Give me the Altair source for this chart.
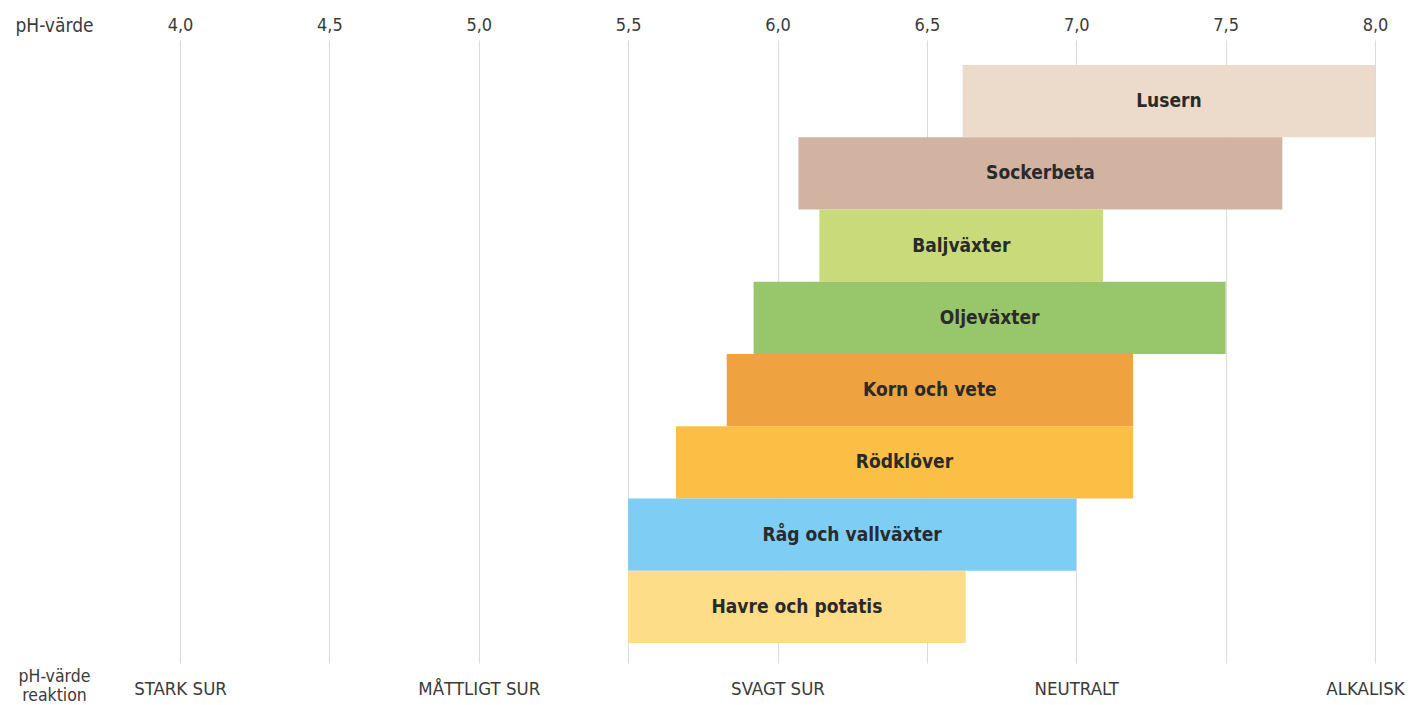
import altair as alt
import pandas as pd

crops = ["Lusern", "Sockerbeta", "Baljväxter", "Oljeväxter", "Korn och vete",
         "Rödklöver", "Råg och vallväxter", "Havre och potatis"]
ph_low = [6.62, 6.07, 6.14, 5.92, 5.83, 5.66, 5.50, 5.50]
ph_high = [8.00, 7.69, 7.09, 7.50, 7.19, 7.19, 7.00, 6.63]
colors = ["#ecdacb", "#d2b3a1", "#c8da79", "#97c66b", "#eea340",
          "#fbbf45", "#7ecdf4", "#fedd89"]

ph_ticks = [4.0, 4.5, 5.0, 5.5, 6.0, 6.5, 7.0, 7.5, 8.0]
reaction_ticks = [4.0, 5.0, 6.0, 7.0, 8.0]
reaction_labels = ["STARK SUR", "MÅTTLIGT SUR", "SVAGT SUR", "NEUTRALT", "ALKALISK"]

df = pd.DataFrame({"crop": crops, "low": ph_low, "high": ph_high})

FONT = "DejaVu Sans Condensed, DejaVu Sans"
TXT = "#3a3a3a"

reaction_expr = " : ".join(
    f"datum.value == {v} ? '{t}'" for v, t in zip(reaction_ticks, reaction_labels)
) + " : ''"

xscale = alt.Scale(domain=[4.0, 8.0], nice=False, zero=False)
yscale = alt.Scale(domain=crops, paddingInner=0, paddingOuter=0.311, align=0.556)

bars = alt.Chart(df).mark_bar(cornerRadius=0).encode(
    x=alt.X("low:Q", scale=xscale,
            axis=alt.Axis(orient="top", values=ph_ticks, grid=True, gridColor="#dcdcdc",
                          gridWidth=1, ticks=False, domain=False,
                          labelExpr="replace(format(datum.value, '.1f'), '.', ',')",
                          labelFont=FONT, labelFontSize=18, labelColor=TXT,
                          labelPadding=6, labelFlush=False,
                          title="pH-värde", titleFont=FONT, titleFontSize=19,
                          titleFontWeight="normal", titleColor=TXT,
                          titleX=-165, titleY=-15, titleAlign="left",
                          titleBaseline="middle", titleAnchor="start")),
    x2="high:Q",
    y=alt.Y("crop:N", scale=yscale, axis=None, sort=crops),
    color=alt.Color("crop:N", scale=alt.Scale(domain=crops, range=colors), legend=None),
)

labels = alt.Chart(df).transform_calculate(
    mid="(datum.low + datum.high) / 2"
).mark_text(font=FONT, fontSize=19, fontWeight="bold", color="#2a2a2a").encode(
    x=alt.X("mid:Q", scale=xscale,
            axis=alt.Axis(orient="bottom", values=reaction_ticks, grid=False,
                          ticks=False, domain=False, labelExpr=reaction_expr,
                          labelFont=FONT, labelFontSize=18.5, labelColor=TXT,
                          labelPadding=16, labelFlush=False, labelOverlap=False,
                          labelOffset={"condition": {"test": "datum.value == 8", "value": -10},
                                       "value": 0},
                          title=["pH-värde", "reaktion"], titleFont=FONT,
                          titleFontSize=17.5, titleFontWeight="normal",
                          titleColor=TXT, titleLineHeight=19,
                          titleX=-126, titleY=4, titleAlign="center",
                          titleBaseline="top", titleAnchor="start")),
    y=alt.Y("crop:N", scale=yscale, axis=None, sort=crops),
    text="crop:N",
)

chart = alt.layer(bars, labels).resolve_axis(x="independent").properties(
    width=1195,
    height=623,
    autosize=alt.AutoSizeParams(type="none"),
    padding={"left": 172, "top": 32, "right": 33, "bottom": 40},
).configure_view(stroke=None)

chart.save("out.html", embed_options={"renderer": "svg", "actions": False})
